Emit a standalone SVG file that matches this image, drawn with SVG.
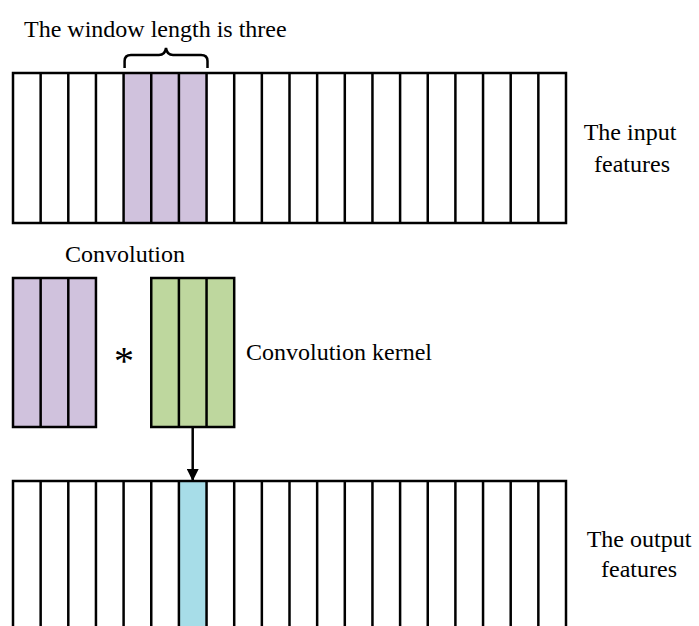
<svg xmlns="http://www.w3.org/2000/svg" width="699" height="626" viewBox="0 0 699 626">
<defs>
<style>
.p{fill:#d0c2dd}
.g{fill:#bed79e}
.b{fill:#a7dde8}
.ln{stroke:#000;stroke-width:2.5;fill:none}
</style>
<marker id="ah" markerWidth="12" markerHeight="12" viewBox="0 0 12 12" refX="12" refY="6" orient="auto" markerUnits="userSpaceOnUse">
<path d="M0,0 L12,6 L0,12 Z" fill="#000"/>
</marker>
</defs>
<rect width="699" height="626" fill="#fff"/>

<g id="window-label" font-family="Liberation Serif, Times New Roman, serif" font-size="24">
<text x="24" y="37">The window length is three</text>
<path class="ln" d="M124.6,68 V61 Q124.6,55 131,55 H159 Q165,55 166,48 Q167,55 173,55 H201 Q207.5,55 207.5,61 V68" stroke-width="2"/>
</g>

<g id="input-features" font-family="Liberation Serif, Times New Roman, serif" font-size="24">
<rect x="124.6" y="73" width="82.95" height="150" class="p"/>
<rect x="13" y="73" width="553" height="150" class="ln"/>
<path class="ln" d="M40.65,73V223M68.3,73V223M95.95,73V223M123.6,73V223M151.25,73V223M178.9,73V223M206.55,73V223M234.2,73V223M261.85,73V223M289.5,73V223M317.15,73V223M344.8,73V223M372.45,73V223M400.1,73V223M427.75,73V223M455.4,73V223M483.05,73V223M510.7,73V223M538.35,73V223"/>
<text x="630" y="140" text-anchor="middle">The input</text>
<text x="632" y="172" text-anchor="middle">features</text>
</g>

<g id="convolution-window" font-family="Liberation Serif, Times New Roman, serif" font-size="24">
<text x="125" y="262" text-anchor="middle">Convolution</text>
<rect x="13" y="278" width="82.95" height="149" class="p"/>
<rect x="13" y="278" width="82.95" height="149" class="ln"/>
<path class="ln" d="M40.65,278V427M68.3,278V427"/>
</g>

<text id="star" x="124" y="374" text-anchor="middle" font-family="Liberation Serif, Times New Roman, serif" font-size="40">*</text>

<g id="kernel" font-family="Liberation Serif, Times New Roman, serif" font-size="24">
<rect x="151.25" y="278" width="82.95" height="149" class="g"/>
<rect x="151.25" y="278" width="82.95" height="149" class="ln"/>
<path class="ln" d="M178.9,278V427M206.55,278V427"/>
<text x="246" y="360">Convolution kernel</text>
</g>

<g id="output-features" font-family="Liberation Serif, Times New Roman, serif" font-size="24">
<rect x="178.9" y="481" width="27.65" height="150" class="b"/>
<rect x="13" y="481" width="553" height="160" class="ln"/>
<path class="ln" d="M40.65,481V626M68.3,481V626M95.95,481V626M123.6,481V626M151.25,481V626M178.9,481V626M206.55,481V626M234.2,481V626M261.85,481V626M289.5,481V626M317.15,481V626M344.8,481V626M372.45,481V626M400.1,481V626M427.75,481V626M455.4,481V626M483.05,481V626M510.7,481V626M538.35,481V626"/>
<text x="639" y="547" text-anchor="middle">The output</text>
<text x="639" y="577" text-anchor="middle">features</text>
</g>

<g id="connectors">
<path class="ln" d="M192.7,428V481" marker-end="url(#ah)"/>
</g>
</svg>
